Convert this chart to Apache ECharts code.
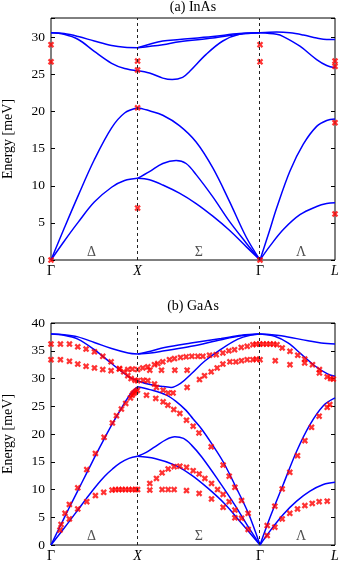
<!DOCTYPE html>
<html>
<head>
<meta charset="utf-8">
<script src="https://cdn.jsdelivr.net/npm/echarts@6/dist/echarts.min.js"></script>
<style>
  html, body { margin: 0; padding: 0; background: #fff; }
  #chart { width: 340px; height: 563px; }
</style>
</head>
<body>
<div id="chart"></div>
<script>
// positions along the path: Γ = 0, X = 1, Γ = 2.414, L = 3.28
const pathTicks = [0, 1, 2.414, 3.28]
const pathLabels = ['Γ', '{i|X}', 'Γ', '{i|L}']
const regionLabels = [['Δ', 0.467], ['Σ', 1.708], ['Λ', 2.887]]

// (a) InAs, calculated branches [q, meV]
const inasDelta = [
  [[0, 0], [0.15, 2.5], [0.315, 5.1], [0.5, 7.8], [0.7, 9.8], [0.85, 10.7], [1, 11.0]],
  [[0, 0], [0.15, 4.2], [0.315, 8.7], [0.5, 13.5], [0.7, 17.8], [0.85, 19.8], [1, 20.5]],
  [[0, 30.6], [0.15, 30.4], [0.315, 29.7], [0.5, 28.1], [0.7, 26.5], [0.85, 25.8], [1, 25.5]],
  [[0, 30.6], [0.15, 30.5], [0.315, 30.1], [0.5, 29.5], [0.7, 28.9], [0.85, 28.65], [1, 28.6]],
]
const inasSigma = [
  [[1, 11.0], [1.137, 10.8], [1.291, 10.1], [1.483, 9.0], [1.676, 7.6], [1.869, 5.9], [2.061, 4.0], [2.254, 1.8], [2.414, 0]],
  [[1, 11.0], [1.137, 11.9], [1.291, 13.0], [1.445, 13.4], [1.56, 13.0], [1.676, 11.5], [1.869, 8.5], [2.061, 5.2], [2.254, 2.3], [2.414, 0]],
  [[1, 20.5], [1.137, 20.1], [1.291, 19.5], [1.483, 18.1], [1.676, 15.9], [1.869, 12.4], [2.061, 7.9], [2.254, 3.1], [2.414, 0]],
  [[1, 25.5], [1.137, 25.2], [1.291, 24.5], [1.4, 24.3], [1.52, 24.6], [1.6, 25.4], [1.792, 27.7], [1.984, 29.5], [2.177, 30.4], [2.414, 30.6]],
  [[1, 28.6], [1.291, 29.5], [1.483, 29.7], [1.869, 30.1], [2.177, 30.5], [2.414, 30.6]],
  [[1, 28.6], [1.291, 29.0], [1.483, 29.4], [1.869, 29.9], [2.177, 30.4], [2.414, 30.6]],
]
const inasLambda = [
  [[2.414, 0], [2.53, 1.9], [2.683, 4.1], [2.875, 6.1], [3.068, 7.2], [3.184, 7.6], [3.28, 7.7]],
  [[2.414, 0], [2.52, 3.8], [2.606, 7.0], [2.76, 12.0], [2.914, 15.6], [3.068, 18.0], [3.184, 18.8], [3.28, 19.0]],
  [[2.414, 30.6], [2.606, 30.4], [2.683, 30.1], [2.875, 28.8], [3.068, 27.0], [3.184, 26.2], [3.28, 25.9]],
  [[2.414, 30.6], [2.606, 30.7], [2.76, 30.6], [2.914, 30.3], [3.068, 29.9], [3.184, 29.7], [3.28, 29.7]],
]
// (a) InAs, measured points
const inasExp = [
  [0, 29.0], [0, 26.7], [0, 0], [1, 26.8], [1, 25.6], [1, 20.5], [1, 7.0],
  [2.414, 29.0], [2.414, 26.7], [2.414, 0], [3.28, 26.8], [3.28, 26.1], [3.28, 18.5], [3.28, 6.2],
]

// (b) GaAs, calculated branches
const gaasDelta = [
  [[0, 0], [0.155, 3.1], [0.31, 6.3], [0.41, 8.4], [0.52, 10.6], [0.62, 12.4], [0.71, 13.7], [0.8, 14.8], [0.9, 15.6], [1, 16.0]],
  [[0, 0], [0.1, 3.2], [0.2, 6.4], [0.31, 9.8], [0.41, 12.9], [0.51, 16.0], [0.61, 19.0], [0.7, 21.6], [0.8, 24.3], [0.89, 26.6], [0.95, 27.8], [1, 28.5]],
  [[0, 38.0], [0.15, 37.8], [0.31, 37.1], [0.5, 35.2], [0.7, 32.7], [0.89, 30.4], [1, 29.6]],
  [[0, 38.0], [0.15, 37.9], [0.31, 37.5], [0.5, 36.5], [0.7, 35.4], [0.89, 34.6], [1, 34.4]],
]
const gaasSigma = [
  [[1, 16.0], [1.199, 15.6], [1.43, 14.4], [1.623, 12.6], [1.815, 10.2], [2.008, 7.4], [2.201, 3.9], [2.414, 0]],
  [[1, 16.0], [1.1, 16.7], [1.199, 17.7], [1.33, 19.0], [1.43, 19.5], [1.53, 19.2], [1.623, 18.0], [1.739, 15.9], [1.931, 11.7], [2.124, 7.2], [2.277, 3.3], [2.414, 0]],
  [[1, 28.5], [1.141, 28.0], [1.334, 27.0], [1.45, 25.8], [1.557, 24.3], [1.642, 22.7], [1.739, 20.9], [1.854, 18.3], [1.988, 15.0], [2.124, 10.8], [2.277, 5.8], [2.414, 0]],
  [[1, 29.6], [1.118, 29.0], [1.272, 28.6], [1.387, 28.4], [1.503, 29.2], [1.618, 30.8], [1.773, 33.1], [1.965, 35.3], [2.158, 37.1], [2.3, 37.8], [2.414, 38.0]],
  [[1, 34.4], [1.15, 34.9], [1.311, 35.6], [1.618, 36.4], [1.965, 37.2], [2.2, 37.8], [2.414, 38.0]],
  [[1, 34.4], [1.15, 34.6], [1.311, 35.0], [1.618, 35.8], [1.965, 37.0], [2.2, 37.7], [2.414, 38.0]],
]
const gaasLambda = [
  [[2.414, 0], [2.528, 2.5], [2.682, 5.5], [2.837, 7.9], [2.991, 9.7], [3.145, 10.9], [3.28, 11.3]],
  [[2.414, 0], [2.528, 4.9], [2.682, 10.9], [2.837, 16.9], [2.991, 21.7], [3.145, 25.1], [3.28, 26.5]],
  [[2.414, 38.0], [2.583, 37.6], [2.737, 36.4], [2.89, 34.4], [3.045, 32.3], [3.199, 30.8], [3.28, 30.4]],
  [[2.414, 38.0], [2.55, 37.9], [2.659, 37.7], [2.968, 36.8], [3.12, 36.4], [3.28, 36.2]],
]
// (b) GaAs, measured points
const gaasExpDelta = [
  [0, 36.2], [0.109, 36.2], [0.213, 36.2], [0.309, 35.7], [0.405, 35.3], [0.502, 34.8], [0.598, 34.0], [0.694, 33.0],
  [0.791, 31.8], [0.84, 31.2], [0.887, 30.5], [0.925, 30.0], [0.971, 29.7], [1.0, 29.6],
  [0, 33.4], [0.109, 33.4], [0.213, 33.1], [0.309, 32.6], [0.405, 32.2], [0.502, 31.9], [0.598, 31.6], [0.694, 31.4],
  [0.79, 31.7], [0.887, 31.6], [0.94, 31.7], [1.0, 31.6],
  [0.104, 2.7], [0.116, 3.7], [0.162, 5.7], [0.212, 7.3], [0.309, 10.3], [0.413, 13.6], [0.513, 16.5], [0.613, 19.4],
  [0.709, 22.0], [0.756, 23.3], [0.813, 24.5], [0.863, 25.5], [0.917, 26.5], [0.937, 27.0], [0.95, 27.3], [0.967, 27.5],
  [0.98, 27.7], [0.998, 27.9],
  [0.212, 4.7], [0.309, 6.5], [0.413, 7.8], [0.513, 8.9], [0.609, 9.5], [0.705, 9.9], [0.744, 10.0], [0.783, 10.0],
  [0.821, 10.0], [0.86, 10.0], [0.899, 10.0], [0.937, 10.0], [0.976, 10.0], [1.0, 10.0],
]
const gaasExpSigma = [
  [1.06, 31.9], [1.118, 32.1], [1.195, 32.5], [1.233, 32.7], [1.291, 33.0], [1.368, 33.4], [1.426, 33.6], [1.496, 33.8],
  [1.561, 33.9], [1.627, 34.0], [1.696, 34.0], [1.754, 34.0], [1.831, 34.2], [1.908, 34.3], [1.985, 34.6], [2.054, 35.0],
  [2.12, 35.2], [2.197, 35.6], [2.266, 35.8], [2.332, 36.1],
  [1.141, 31.5], [1.276, 31.5], [1.43, 31.5], [1.572, 31.5],
  [1.715, 29.8], [1.773, 30.5], [1.85, 31.2], [1.919, 31.9], [1.985, 32.6], [2.066, 33.0], [2.135, 33.0], [2.2, 33.2],
  [2.266, 33.4], [2.332, 33.4], [2.414, 33.4],
  [1.064, 29.7], [1.118, 29.6], [1.195, 29.0], [1.218, 28.4], [1.295, 27.9], [1.353, 27.4], [1.41, 27.4], [1.572, 28.4],
  [1.103, 27.0], [1.21, 26.4], [1.295, 25.8], [1.35, 25.2], [1.418, 24.4], [1.488, 23.7], [1.565, 22.5], [1.642, 21.4],
  [1.709, 20.2], [1.85, 17.7], [1.988, 14.4], [2.058, 12.4], [2.124, 10.4], [2.201, 8.0], [2.277, 5.7],
  [1.141, 11.1], [1.218, 12.0], [1.283, 13.0], [1.353, 13.7], [1.422, 14.1], [1.488, 14.2], [1.565, 14.0], [1.642, 13.4],
  [1.711, 12.8], [1.777, 12.0], [1.854, 11.1], [1.924, 10.0], [1.988, 9.1], [2.058, 7.8], [2.124, 6.3], [2.201, 4.8], [2.277, 2.8],
  [1.141, 9.9], [1.283, 10.0], [1.353, 10.0], [1.422, 10.0], [1.565, 9.8], [1.711, 9.3], [1.854, 8.3], [1.988, 6.8], [2.124, 4.9],
]
const gaasExpLambda = [
  [2.37, 36.2], [2.41, 36.2], [2.45, 36.2], [2.49, 36.2], [2.53, 36.2], [2.57, 36.2], [2.61, 36.1],
  [2.67, 35.5], [2.76, 34.9], [2.85, 34.2], [2.93, 33.5], [3.02, 32.5], [3.1, 31.6], [3.19, 30.3], [3.23, 30.0], [3.26, 29.9],
  [2.372, 33.5], [2.59, 33.2], [2.76, 32.5], [2.93, 32.8], [3.1, 31.0],
  [2.497, 3.5], [2.585, 7.0], [2.67, 10.1], [2.758, 13.1], [2.847, 16.1], [2.932, 18.8], [3.009, 21.2], [3.097, 23.2],
  [3.19, 24.8], [3.22, 25.3],
  [2.497, 1.7], [2.585, 3.2], [2.67, 4.7], [2.758, 5.7], [2.847, 6.5], [2.932, 7.1], [3.017, 7.5], [3.097, 7.8], [3.19, 7.9],
]

const FONT = 'Liberation Serif'
const crossPath = 'path://M0,2.5L2.5,0L5,2.5L7.5,0L10,2.5L7.5,5L10,7.5L7.5,10L5,7.5L2.5,10L0,7.5L2.5,5Z'

const myChart = echarts.init(document.getElementById('chart'), null, { renderer: 'canvas' })

function xAxisFor(gridIndex) {
  return {
    type: 'value',
    gridIndex: gridIndex,
    min: 0,
    max: 3.28,
    axisLine: { show: false },
    axisTick: { show: false },
    splitLine: { show: false },
    axisLabel: {
      customValues: pathTicks,
      margin: 4,
      color: '#000',
      fontFamily: FONT,
      fontSize: 14,
      formatter: (v) => {
        let k = 0
        pathTicks.forEach((t, i) => { if (Math.abs(t - v) < Math.abs(pathTicks[k] - v)) k = i })
        return pathLabels[k]
      },
      rich: { i: { fontStyle: 'italic', fontFamily: FONT, fontSize: 14, color: '#000' } },
    },
  }
}

function yAxisFor(gridIndex, max, right) {
  return {
    type: 'value',
    gridIndex: gridIndex,
    position: right ? 'right' : 'left',
    min: 0,
    max: max,
    interval: 5,
    name: right ? '' : 'Energy [meV]',
    nameLocation: 'middle',
    nameRotate: 90,
    nameGap: 36,
    nameTextStyle: { color: '#000', fontFamily: FONT, fontSize: 14 },
    axisLine: { show: false },
    axisTick: { show: true, inside: true, length: 4, lineStyle: { color: '#000', width: 1 } },
    splitLine: { show: false },
    axisLabel: {
      show: !right,
      margin: 6,
      color: '#000',
      fontFamily: FONT,
      fontSize: 13.5,
      formatter: (v) => (v % 5 === 0 ? String(v) : ''),
    },
  }
}

function branchSeries(branches, idx) {
  return branches.map((b) => ({
    type: 'line',
    xAxisIndex: idx,
    yAxisIndex: idx * 2,
    data: b,
    smooth: 0.35,
    showSymbol: false,
    silent: true,
    z: 3,
    lineStyle: { color: '#0000ff', width: 1.5 },
  }))
}

function expSeries(points, idx) {
  return {
    type: 'scatter',
    xAxisIndex: idx,
    yAxisIndex: idx * 2,
    data: points,
    symbol: crossPath,
    symbolSize: 6.5,
    clip: false,
    silent: true,
    z: 4,
    itemStyle: { color: '#ff0000' },
  }
}

function guideSeries(idx, labelY) {
  return {
    type: 'scatter',
    xAxisIndex: idx,
    yAxisIndex: idx * 2,
    data: regionLabels.map((r) => ({ name: r[0], value: [r[1], labelY] })),
    symbolSize: 1,
    silent: true,
    itemStyle: { color: 'rgba(0,0,0,0)' },
    label: { show: true, position: 'inside', formatter: '{b}', color: '#222', fontFamily: FONT, fontSize: 14 },
    markLine: {
      silent: true,
      symbol: 'none',
      label: { show: false },
      lineStyle: { color: '#222', type: [3, 3], width: 1 },
      data: [{ xAxis: pathTicks[1] }, { xAxis: pathTicks[2] }],
    },
    z: 2,
  }
}

const option = {
  animation: false,
  textStyle: { fontFamily: FONT },
  grid: [
    { left: 51, right: 5, top: 18, height: 242, show: true, borderColor: '#000', borderWidth: 1, outerBoundsMode: 'none', containLabel: false },
    { left: 51, right: 5, top: 323, height: 222, show: true, borderColor: '#000', borderWidth: 1, outerBoundsMode: 'none', containLabel: false },
  ],
  graphic: [
    { type: 'text', x: 193, y: 7, style: { text: '(a) InAs', fill: '#000', font: '14px "Liberation Serif"', textAlign: 'center', textVerticalAlign: 'middle' } },
    { type: 'text', x: 193, y: 306, style: { text: '(b) GaAs', fill: '#000', font: '14px "Liberation Serif"', textAlign: 'center', textVerticalAlign: 'middle' } },
  ],
  xAxis: [xAxisFor(0), xAxisFor(1)],
  yAxis: [yAxisFor(0, 32.6, false), yAxisFor(0, 32.6, true), yAxisFor(1, 40, false), yAxisFor(1, 40, true)],
  series: [
    guideSeries(0, 1.0),
    ...branchSeries(inasDelta.concat(inasSigma, inasLambda), 0),
    expSeries(inasExp, 0),
    guideSeries(1, 1.6),
    ...branchSeries(gaasDelta.concat(gaasSigma, gaasLambda), 1),
    expSeries(gaasExpDelta.concat(gaasExpSigma, gaasExpLambda), 1),
  ],
}
myChart.setOption(option)
</script>
</body>
</html>
